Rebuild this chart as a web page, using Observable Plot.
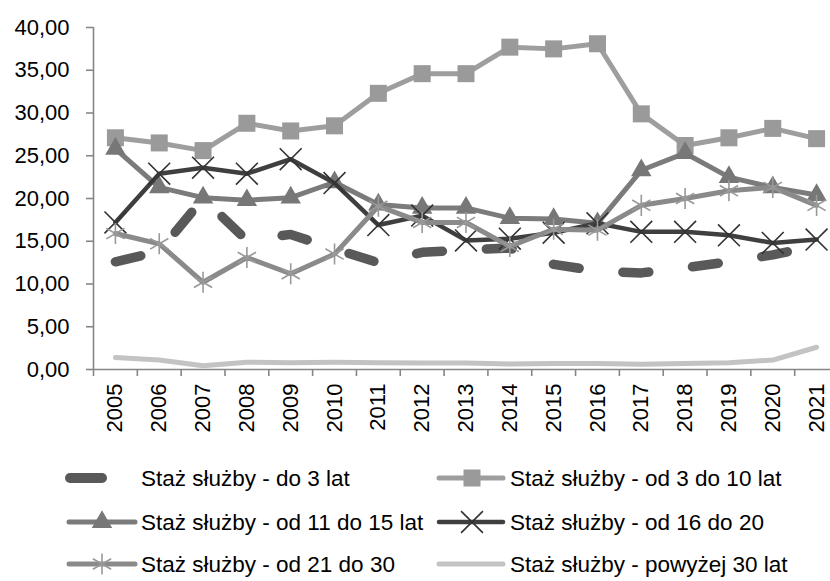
<!DOCTYPE html>
<html>
<head>
<meta charset="utf-8">
<script src="https://cdn.jsdelivr.net/npm/d3@7"></script>
<script src="https://cdn.jsdelivr.net/npm/@observablehq/plot@0.6"></script>
<style>
  html, body { margin: 0; padding: 0; background: #fff; overflow: hidden; }
  #chart { width: 830px; height: 581px; position: relative; }
  #chart svg { display: block; }
</style>
</head>
<body>
<div id="chart"></div>
<script>
// ---- data ----
const years = [2005, 2006, 2007, 2008, 2009, 2010, 2011, 2012, 2013, 2014, 2015, 2016, 2017, 2018, 2019, 2020, 2021];
const seriesNames = [
  "Staż służby - do 3 lat",
  "Staż służby - od 3 do 10 lat",
  "Staż służby - od 11 do 15 lat",
  "Staż służby - od 16 do 20",
  "Staż służby - od 21 do 30",
  "Staż służby - powyżej 30 lat"
];
const do3     = [12.6, 13.8, 20.0, 15.1, 15.8, 14.1, 12.5, 13.7, 14.0, 14.2, 12.3, 11.5, 11.3, 11.9, 12.6, 13.4, 14.5];
const od3_10  = [27.1, 26.5, 25.6, 28.8, 27.9, 28.5, 32.3, 34.6, 34.6, 37.7, 37.5, 38.1, 29.9, 26.2, 27.1, 28.2, 27.0];
const od11_15 = [25.8, 21.3, 20.1, 19.8, 20.1, 21.9, 19.3, 18.9, 18.9, 17.7, 17.6, 17.1, 23.3, 25.3, 22.5, 21.3, 20.4];
const od16_20 = [17.2, 22.9, 23.6, 22.9, 24.6, 21.8, 16.9, 18.0, 15.1, 15.3, 16.0, 17.1, 16.1, 16.1, 15.7, 14.8, 15.2];
const od21_30 = [15.9, 14.7, 10.2, 13.1, 11.2, 13.5, 19.1, 17.2, 17.2, 14.4, 16.4, 16.3, 19.2, 20.0, 20.9, 21.3, 19.2];
const pow30   = [1.4, 1.1, 0.45, 0.85, 0.8, 0.85, 0.8, 0.75, 0.75, 0.65, 0.7, 0.7, 0.6, 0.7, 0.8, 1.1, 2.6];
const yTicks = [0, 5, 10, 15, 20, 25, 30, 35, 40];

// ---- styles ----
const FONT = "'Liberation Sans', Arial, sans-serif";
const AXIS = "#868686";
const styles = [
  {color: "#595959", width: 9.5, dash: "26,44", symbol: null},
  {color: "#9e9e9e", width: 5, symbol: "square", r: 9.6, fill: "#9a9a9a"},
  {color: "#7b7b7b", width: 5, symbol: "triangle", r: 7.6, fill: "#777777"},
  {color: "#3f3f3f", width: 4.5, symbol: "times", r: 10, stroke: "#333333"},
  {color: "#8a8a8a", width: 5, symbol: "asterisk", r: 10, stroke: "#999999"},
  {color: "#c3c3c3", width: 5, symbol: null}
];
const seriesValues = [do3, od3_10, od11_15, od16_20, od21_30, pow30];

const table = (vals) => years.map((year, i) => ({year, value: vals[i]}));
const xBounds = years.concat([years[years.length - 1] + 1]).map(y => y - 0.5);

const marks = [
  Plot.ruleY([0], {stroke: AXIS, strokeWidth: 1.6}),
  Plot.ruleX([xBounds[0]], {y1: 0, y2: 40, stroke: AXIS, strokeWidth: 1.6}),
  Plot.axisY(yTicks, {tickSize: 7, tickPadding: 17, stroke: AXIS, strokeWidth: 1.6, fill: "#000",
    fontSize: 22, tickFormat: d => d.toFixed(2).replace(".", ","), label: null}),
  Plot.axisX(xBounds, {tickSize: 7, stroke: AXIS, strokeWidth: 1.6, tickFormat: () => "", label: null}),
  Plot.axisX(years, {tickSize: 0, tickPadding: 14, tickRotate: -90, fill: "#000", fontSize: 22,
    tickFormat: d => String(d), label: null})
];

seriesValues.forEach((vals, k) => {
  const s = styles[k];
  const data = table(vals);
  marks.push(Plot.line(data, {
    x: "year", y: "value", stroke: s.color, strokeWidth: s.width,
    strokeDasharray: s.dash, strokeLinecap: "round", strokeLinejoin: "round"
  }));
  if (s.symbol === "square" || s.symbol === "triangle") {
    marks.push(Plot.dot(data, {x: "year", y: "value", symbol: s.symbol, r: s.r, fill: s.fill, stroke: "none"}));
  } else if (s.symbol) {
    marks.push(Plot.dot(data, {x: "year", y: "value", symbol: s.symbol, r: s.r, stroke: s.stroke, strokeWidth: 1.6, fill: "none"}));
  }
});

const chart = Plot.plot({
  width: 830,
  height: 440,
  marginLeft: 93,
  marginRight: 0,
  marginTop: 27,
  marginBottom: 71,
  style: {fontFamily: FONT, fontSize: "22px", background: "#fff", color: "#000", overflow: "hidden"},
  x: {type: "linear", domain: [xBounds[0], xBounds[xBounds.length - 1]], range: [93, 838], label: null},
  y: {domain: [0, 40], label: null},
  marks
});
document.getElementById("chart").appendChild(chart);

// ---- legend ----
const leg = d3.select("#chart").append("svg")
  .attr("width", 830).attr("height", 141)
  .style("font-family", FONT).style("font-size", "22.5px");
const rowsY = [38, 82, 124];
const cols = [
  {x1: 67, x2: 137, mx: 102, tx: 141},
  {x1: 437, x2: 505, mx: 472, tx: 510}
];
seriesNames.forEach((name, k) => {
  const s = styles[k];
  const c = cols[k % 2];
  const y = rowsY[Math.floor(k / 2)];
  const g = leg.append("g");
  if (k === 0) {
    g.append("line").attr("x1", 70).attr("x2", 102).attr("y1", y).attr("y2", y)
      .attr("stroke", s.color).attr("stroke-width", 10).attr("stroke-linecap", "round");
  } else {
    g.append("line").attr("x1", c.x1 + 2).attr("x2", c.x2 - 2).attr("y1", y).attr("y2", y)
      .attr("stroke", s.color).attr("stroke-width", s.width).attr("stroke-linecap", "round");
  }
  if (s.symbol) {
    const typ = {square: d3.symbolSquare, triangle: d3.symbolTriangle, times: d3.symbolTimes, asterisk: d3.symbolAsterisk}[s.symbol];
    const p = g.append("path").attr("transform", `translate(${c.mx},${y})`)
      .attr("d", d3.symbol(typ, Math.PI * s.r * s.r)());
    if (s.symbol === "square" || s.symbol === "triangle") p.attr("fill", s.fill);
    else p.attr("fill", "none").attr("stroke", s.stroke).attr("stroke-width", 1.6);
  }
  g.append("text").attr("x", c.tx).attr("y", y).attr("dy", "0.35em").attr("fill", "#000").text(name);
});
</script>
</body>
</html>
